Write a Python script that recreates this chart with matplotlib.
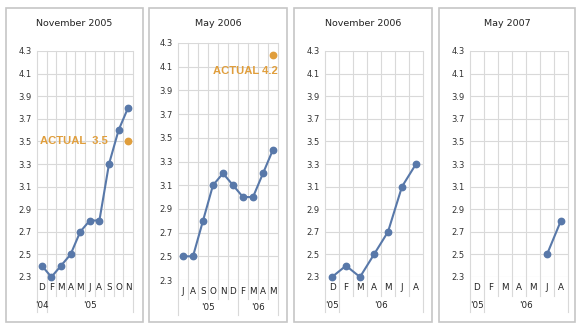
import matplotlib
matplotlib.use("Agg")
import matplotlib.pyplot as plt
from matplotlib.patches import Rectangle
from matplotlib.transforms import blended_transform_factory

# forecast panels, one per survey date
titles = ["November 2005", "May 2006", "November 2006", "May 2007"]

months1 = ["D", "F", "M", "A", "M", "J", "A", "S", "O", "N"]
values1 = [2.4, 2.3, 2.4, 2.5, 2.7, 2.8, 2.8, 3.3, 3.6, 3.8]
years1 = ["'04", "'05"]
year_breaks1 = [0, 1, 10]
actual1 = 3.5
actual_label1 = "ACTUAL  3.5"

months2 = ["J", "A", "S", "O", "N", "D", "F", "M", "A", "M"]
values2 = [2.5, 2.5, 2.8, 3.1, 3.2, 3.1, 3.0, 3.0, 3.2, 3.4]
years2 = ["'05", "'06"]
year_breaks2 = [0, 6, 10]
actual2 = 4.2
actual_label2 = "ACTUAL 4.2"

months3 = ["D", "F", "M", "A", "M", "J", "A"]
values3 = [2.3, 2.4, 2.3, 2.5, 2.7, 3.1, 3.3]
years3 = ["'05", "'06"]
year_breaks3 = [0, 1, 7]

months4 = ["D", "F", "M", "A", "M", "J", "A"]
values4 = [None, None, None, None, None, 2.5, 2.8]
years4 = ["'05", "'06"]
year_breaks4 = [0, 1, 7]

yticks = [2.3, 2.5, 2.7, 2.9, 3.1, 3.3, 3.5, 3.7, 3.9, 4.1, 4.3]

W, H = 585, 329
GRID = "#d9d9d9"
BLUE = "#5878a9"
ORANGE = "#e09e3c"

fig = plt.figure(figsize=(W / 100, H / 100), dpi=100)
fig.patch.set_facecolor("white")

# pixel layout: box left/right, plot left/right/top/bottom
boxes = [(6, 143), (149, 287), (294, 432), (439, 575)]
plots = [(37, 133, 51, 277), (178, 278, 43, 280), (325, 423, 51, 277), (470, 568, 51, 277)]

panels = [
    (months1, values1, years1, year_breaks1, actual1, actual_label1),
    (months2, values2, years2, year_breaks2, actual2, actual_label2),
    (months3, values3, years3, year_breaks3, None, None),
    (months4, values4, years4, year_breaks4, None, None),
]


def fy(y):
    return 1 - y / H


for i, (months, values, years, breaks, actual, actual_label) in enumerate(panels):
    bx0, bx1 = boxes[i]
    fig.patches.append(Rectangle((bx0 / W, fy(322)), (bx1 - bx0) / W, (322 - 8) / H,
                                 transform=fig.transFigure, fill=False,
                                 edgecolor="#c6c6c6", linewidth=1.2))
    fig.text((bx0 + bx1) / 2 / W, fy(23), titles[i], ha="center", va="center",
             fontsize=6.8, color="#222222")

    px0, px1, ptop, pbot = plots[i]
    ax = fig.add_axes([px0 / W, fy(pbot), (px1 - px0) / W, (pbot - ptop) / H])
    n = len(months)
    x = list(range(n))
    ax.set_xlim(-0.5, n - 0.5)
    ax.set_ylim(2.3, 4.3)
    for s in ax.spines.values():
        s.set_visible(False)
    ax.set_xticks([])
    ax.set_yticks(yticks)
    ax.set_yticklabels(["%.1f" % t for t in yticks])
    ax.tick_params(axis="y", length=0, pad=4, labelsize=6, labelcolor="#333333")
    ax.set_facecolor("none")

    for t in yticks:
        ax.axhline(t, color=GRID, linewidth=0.8, zorder=1)

    tr = blended_transform_factory(ax.transData, fig.transFigure)
    for k in range(n + 1):
        xb = k - 0.5
        end = pbot + 35 if k in breaks else pbot + 19
        ax.plot([xb, xb], [fy(ptop), fy(end)], transform=tr, color=GRID,
                linewidth=0.8, clip_on=False, zorder=1)

    for k, m in enumerate(months):
        ax.text(k, fy(pbot + 11), m, transform=tr, ha="center", va="center",
                fontsize=6.3, color="#222222")
    for j, yr in enumerate(years):
        mid = (breaks[j] + breaks[j + 1] - 1) / 2
        ax.text(mid, fy(pbot + 28), yr, transform=tr, ha="center", va="center",
                fontsize=6.3, color="#222222")

    xs = [a for a, v in zip(x, values) if v is not None]
    vs = [v for v in values if v is not None]
    ax.plot(xs, vs, color=BLUE, linewidth=1.5, marker="o", markersize=4.6,
            clip_on=False, zorder=3)

    if actual is not None:
        ax.plot([n - 1], [actual], "o", color=ORANGE, markersize=4.6,
                clip_on=False, zorder=3)
        if i == 0:
            ax.text(n - 3 - 0.15, actual, actual_label, ha="right", va="center",
                    fontsize=8.1, color=ORANGE, family="Liberation Sans",
                    fontweight="bold", zorder=4)
        else:
            ax.text(n - 0.5, actual - 0.14, actual_label, ha="right", va="center",
                    fontsize=8.1, color=ORANGE, family="Liberation Sans",
                    fontweight="bold", zorder=4)

fig.savefig("out.png", dpi=100, facecolor="white")
